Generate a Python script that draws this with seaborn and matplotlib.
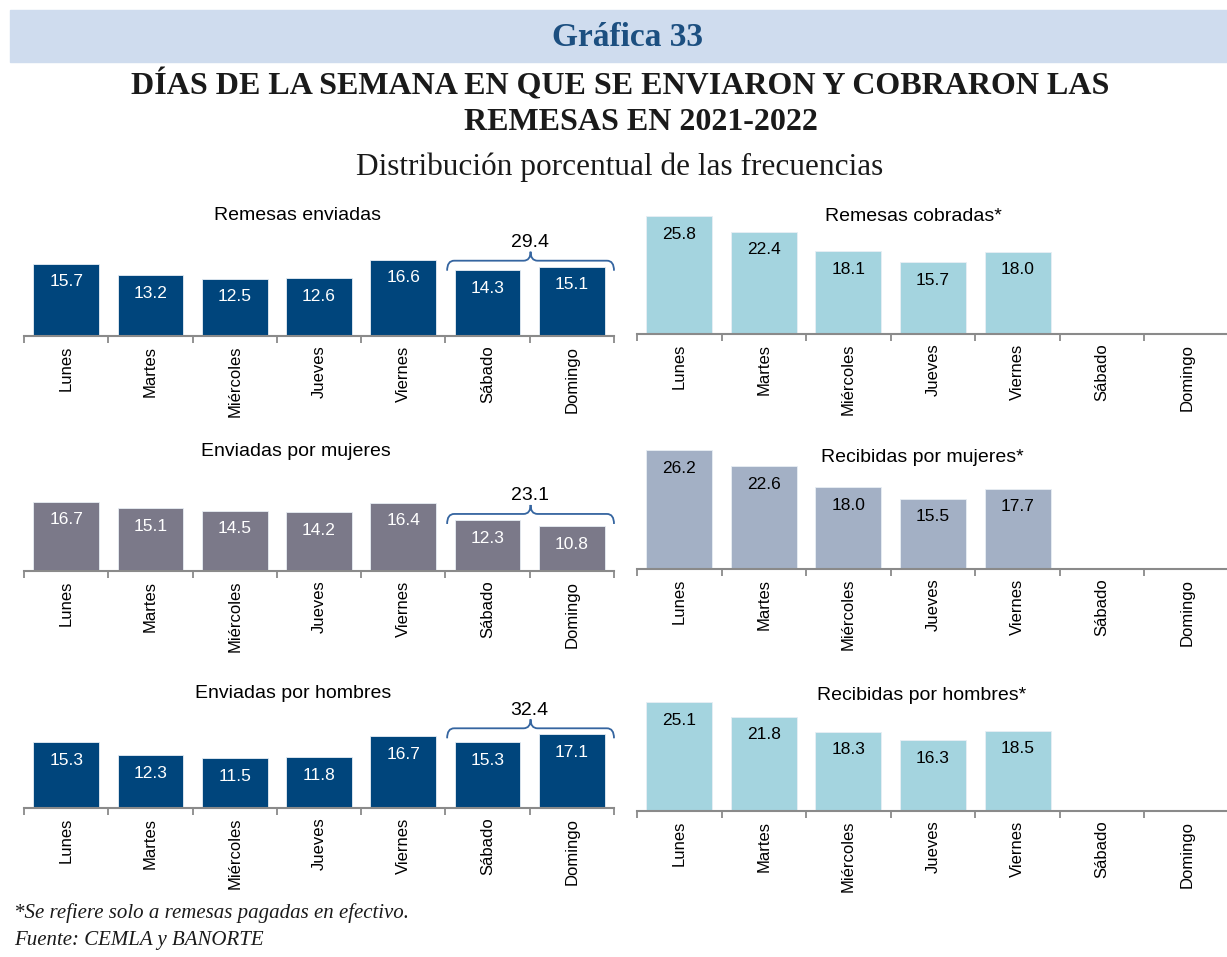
import numpy as np
import pandas as pd
import matplotlib
matplotlib.use("Agg")
import matplotlib.pyplot as plt
import seaborn as sns
from matplotlib.path import Path
from matplotlib.patches import PathPatch, Rectangle

# ---- data -------------------------------------------------------------
dias = ["Lunes", "Martes", "Miércoles", "Jueves", "Viernes", "Sábado", "Domingo"]

enviadas = [15.7, 13.2, 12.5, 12.6, 16.6, 14.3, 15.1]
cobradas = [25.8, 22.4, 18.1, 15.7, 18.0]
env_mujeres = [16.7, 15.1, 14.5, 14.2, 16.4, 12.3, 10.8]
rec_mujeres = [26.2, 22.6, 18.0, 15.5, 17.7]
env_hombres = [15.3, 12.3, 11.5, 11.8, 16.7, 15.3, 17.1]
rec_hombres = [25.1, 21.8, 18.3, 16.3, 18.5]

# ---- style ------------------------------------------------------------
sns.set_theme(style="white")
plt.rcParams["font.family"] = ["Liberation Sans", "DejaVu Sans"]
SERIF = ["Liberation Serif", "DejaVu Serif"]

AZUL = "#00457c"
GRIS = "#7b7989"
CELESTE = "#a4d4df"
PIZARRA = "#a3b0c5"
EJE = "#8a8a8a"
LLAVE = "#3565a0"

W, H = 1227, 957
fig = plt.figure(figsize=(W / 100, H / 100), dpi=100)


def px_axes(x0, top, x1, bottom):
    return fig.add_axes([x0 / W, 1 - bottom / H, (x1 - x0) / W, (bottom - top) / H])


def draw_brace(ax, x0, x1, y, hook, tip, r):
    xc = (x0 + x1) / 2
    verts = [
        (x0, y - hook), (x0, y), (x0 + r, y),
        (xc - r, y), (xc, y), (xc, y + tip),
        (xc, y), (xc + r, y),
        (x1 - r, y), (x1, y), (x1, y - hook),
    ]
    codes = [
        Path.MOVETO, Path.CURVE3, Path.CURVE3,
        Path.LINETO, Path.CURVE3, Path.CURVE3,
        Path.CURVE3, Path.CURVE3,
        Path.LINETO, Path.CURVE3, Path.CURVE3,
    ]
    ax.add_patch(PathPatch(Path(verts, codes), facecolor="none",
                           edgecolor=LLAVE, lw=1.3, clip_on=False))


paneles = [
    dict(titulo="Remesas enviadas", vals=enviadas, color=AZUL, txt="white",
         box=(24, 205, 614, 336), scale=4.59, llave=True, tpos=(297, 215)),
    dict(titulo="Remesas cobradas*", vals=cobradas, color=CELESTE, txt="black",
         box=(637, 205, 1229, 334), scale=4.57, llave=False, tpos=(913, 216)),
    dict(titulo="Enviadas por mujeres", vals=env_mujeres, color=GRIS, txt="white",
         box=(24, 440, 614, 571), scale=4.15, llave=True, tpos=(296, 452)),
    dict(titulo="Recibidas por mujeres*", vals=rec_mujeres, color=PIZARRA, txt="black",
         box=(637, 440, 1229, 569), scale=4.54, llave=False, tpos=(922, 458)),
    dict(titulo="Enviadas por hombres", vals=env_hombres, color=AZUL, txt="white",
         box=(24, 680, 614, 808), scale=4.31, llave=True, tpos=(293, 693)),
    dict(titulo="Recibidas por hombres*", vals=rec_hombres, color=CELESTE, txt="black",
         box=(637, 680, 1229, 811), scale=4.33, llave=False, tpos=(922, 696)),
]

for p in paneles:
    x0, top, x1, bottom = p["box"]
    ax = px_axes(x0, top, x1, bottom)
    ax.set_facecolor("none")
    vals = p["vals"]
    df = pd.DataFrame({"dia": dias[:len(vals)], "valor": vals})
    sns.barplot(data=df, x="dia", y="valor", order=dias, color=p["color"],
                saturation=1, width=0.78, errorbar=None, ax=ax,
                edgecolor="#e8eef4", linewidth=0.6)
    ymax = (bottom - top) / p["scale"]
    ax.set_xlim(-0.5, 6.5)
    ax.set_ylim(0, ymax)
    ax.set_xlabel("")
    ax.set_ylabel("")
    ax.set_yticks([])
    for s in ["top", "left", "right"]:
        ax.spines[s].set_visible(False)
    ax.spines["bottom"].set_color(EJE)
    ax.spines["bottom"].set_linewidth(1.5)
    ax.set_xticks(range(len(dias)))
    ax.set_xticklabels(dias, rotation=90, fontsize=12, color="black")
    ax.set_xticks(np.arange(-0.5, len(dias), 1), minor=True)
    ax.tick_params(axis="x", which="major", length=0, pad=7, bottom=False)
    ax.tick_params(axis="x", which="minor", length=5, width=1.3, color=EJE,
                   direction="out", bottom=True)

    for i, v in enumerate(vals):
        ax.annotate(f"{v:.1f}", (i, v), xytext=(0, -13), textcoords="offset points",
                    ha="center", va="center", color=p["txt"], fontsize=12.5)

    if p["llave"]:
        fin = vals[5:7]
        px = ymax / (bottom - top)  # data units per pixel
        y = max(fin) + 6 * px
        draw_brace(ax, 4.52, 6.5, y, hook=10 * px, tip=9 * px, r=7 / 84.3)
        ax.annotate(f"{sum(fin):.1f}", (5.5, y), xytext=(0, 13),
                    textcoords="offset points", ha="center", va="center",
                    fontsize=14, color="black", annotation_clip=False)

    fig.text(p["tpos"][0] / W, 1 - p["tpos"][1] / H, p["titulo"],
             ha="center", va="center", fontsize=14, color="black")

# ---- header -----------------------------------------------------------
fig.add_artist(Rectangle((10 / W, 1 - 62 / H), (W - 10) / W, 52 / H,
                         transform=fig.transFigure, color="#cfdcee", zorder=0))
fig.text(627 / W, 1 - 37 / H, "Gráfica 33", ha="center", va="center",
         fontsize=24, fontweight="bold", color="#1c4f80", family=SERIF)
fig.text(620 / W, 1 - 85 / H, "DÍAS DE LA SEMANA EN QUE SE ENVIARON Y COBRARON LAS",
         ha="center", va="center", fontsize=23, fontweight="bold", color="#1a1a1a",
         family=SERIF)
fig.text(641 / W, 1 - 123 / H, "REMESAS EN 2021-2022",
         ha="center", va="center", fontsize=23, fontweight="bold", color="#1a1a1a",
         family=SERIF)
fig.text(620 / W, 1 - 167 / H, "Distribución porcentual de las frecuencias",
         ha="center", va="center", fontsize=22.5, color="#1a1a1a", family=SERIF)

# ---- notes ------------------------------------------------------------
fig.text(14 / W, 1 - 913 / H, "*Se refiere solo a remesas pagadas en efectivo.",
         ha="left", va="center", fontsize=15, style="italic", color="#1a1a1a",
         family=SERIF)
fig.text(14 / W, 1 - 940 / H, "Fuente: CEMLA y BANORTE",
         ha="left", va="center", fontsize=15, style="italic", color="#1a1a1a",
         family=SERIF)

fig.savefig("out.png", dpi=100)
